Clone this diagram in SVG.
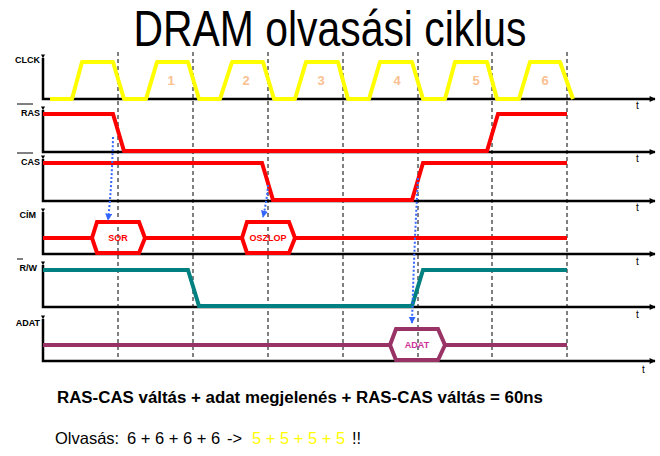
<svg xmlns="http://www.w3.org/2000/svg" width="660" height="456" viewBox="0 0 660 456">
<defs>
<marker id="ax" viewBox="0 0 10 10" refX="9" refY="5" markerWidth="4" markerHeight="4" orient="auto" markerUnits="userSpaceOnUse"><path d="M0,0 L10,5 L0,10 z" fill="#000"/></marker>
<marker id="axh" viewBox="0 0 10 10" refX="9" refY="5" markerWidth="8" markerHeight="6" orient="auto" markerUnits="userSpaceOnUse"><path d="M0,0 L10,5 L0,10 z" fill="#000"/></marker>
<marker id="bl" viewBox="0 0 10 10" refX="9" refY="5" markerWidth="7" markerHeight="7" orient="auto" markerUnits="userSpaceOnUse"><path d="M0,0 L10,5 L0,10 z" fill="#3366FF"/></marker>
<style>
.axis{fill:none;stroke:#000;stroke-width:2.5}
.dash{fill:none;stroke:#000;stroke-width:1;stroke-dasharray:4,3}
.lbl{font-family:"Liberation Sans",Arial,sans-serif;font-size:9px;font-weight:bold;fill:#000}
.t{font-family:"Liberation Sans",Arial,sans-serif;font-size:10px;fill:#000}
.num{font-family:"Liberation Sans",Arial,sans-serif;font-size:13px;font-weight:bold;fill:#FAC090;text-anchor:middle}
.clk{fill:none;stroke:#FFFF00;stroke-width:4;stroke-linejoin:round}
.red{fill:none;stroke:#FF0000;stroke-width:4}
.teal{fill:none;stroke:#008080;stroke-width:4}
.pur{fill:none;stroke:#993366;stroke-width:4}
.in{font-family:"Liberation Sans",Arial,sans-serif;font-size:9px;font-weight:bold;text-anchor:middle}
.blue{fill:none;stroke:#3366FF;stroke-width:2;stroke-dasharray:2,2}
.note{font-family:"Liberation Sans",Arial,sans-serif;font-size:16.5px;fill:#000}
</style>
</defs>
<rect width="660" height="456" fill="#fff"/>
<text x="330" y="46" text-anchor="middle" font-family="Liberation Sans,Arial,sans-serif" font-size="50" textLength="393" lengthAdjust="spacingAndGlyphs">DRAM olvasási ciklus</text>

<g id="grid">
<line class="dash" x1="118" y1="52" x2="118" y2="361"/>
<line class="dash" x1="193" y1="52" x2="193" y2="361"/>
<line class="dash" x1="268" y1="52" x2="268" y2="361"/>
<line class="dash" x1="343" y1="52" x2="343" y2="361"/>
<line class="dash" x1="418" y1="52" x2="418" y2="361"/>
<line class="dash" x1="492" y1="52" x2="492" y2="361"/>
<line class="dash" x1="567" y1="52" x2="567" y2="361"/>
</g>

<g id="clck">
<path class="axis" d="M43,58 L43,99 L655,99" marker-start="url(#ax)" marker-end="url(#axh)"/>
<text class="lbl" x="40" y="63" text-anchor="end">CLCK</text>
<text class="t" x="636" y="109">t</text>
<path class="clk" d="M50,99 L72,99 L82,62 L113,62 L124,99 L146,99 L157,62 L188,62 L199,99 L220,99 L232,62 L263,62 L274,99 L295,99 L306,62 L338,62 L348,99 L369,99 L380,62 L412,62 L423,99 L445,99 L455,62 L487,62 L497,99 L519,99 L530,62 L560,62 L573,99"/>
<text class="num" x="171" y="85">1</text>
<text class="num" x="246" y="85">2</text>
<text class="num" x="321" y="85">3</text>
<text class="num" x="397" y="85">4</text>
<text class="num" x="476" y="85">5</text>
<text class="num" x="545" y="85">6</text>
</g>

<g id="ras">
<path class="axis" d="M43,110 L43,152 L655,152" marker-start="url(#ax)" marker-end="url(#axh)"/>
<line x1="17" y1="104" x2="33" y2="104" stroke="#000" stroke-width="1"/>
<text class="lbl" x="40" y="116" text-anchor="end">RAS</text>
<text class="t" x="636" y="162">t</text>
<path class="red" d="M43,114 L113,114 L124,151 L487,151 L498,114 L567,114"/>
</g>

<g id="cas">
<path class="axis" d="M43,159 L43,201 L655,201" marker-start="url(#ax)" marker-end="url(#axh)"/>
<line x1="17" y1="153" x2="33" y2="153" stroke="#000" stroke-width="1"/>
<text class="lbl" x="40" y="165" text-anchor="end">CAS</text>
<text class="t" x="636" y="211">t</text>
<path class="red" d="M43,163 L262,163 L273,200 L412,200 L423,163 L567,163"/>
</g>

<g id="cim">
<path class="axis" d="M43,212 L43,254 L655,254" marker-start="url(#ax)" marker-end="url(#axh)"/>
<text class="lbl" x="36" y="218" text-anchor="end">CÍM</text>
<text class="t" x="636" y="265">t</text>
<path class="red" d="M43,238 L92,238 M145,238 L242,238 M295,238 L567,238"/>
<path class="red" d="M92,238 L97,222 L139,222 L145,238 L139,253 L97,253 Z"/>
<text class="in" x="118" y="241" fill="#FF0000">SOR</text>
<path class="red" d="M242,238 L247,222 L289,222 L295,238 L289,253 L247,253 Z"/>
<text class="in" x="268" y="241" fill="#FF0000">OSZLOP</text>
</g>

<g id="rw">
<path class="axis" d="M43,265 L43,307 L655,307" marker-start="url(#ax)" marker-end="url(#axh)"/>
<line x1="17" y1="259" x2="23" y2="259" stroke="#000" stroke-width="1"/>
<text class="lbl" x="37" y="271" text-anchor="end">R/W</text>
<text class="t" x="636" y="318">t</text>
<path class="teal" d="M43,270 L188,270 L199,306 L412,306 L423,270 L567,270"/>
</g>

<g id="adat">
<path class="axis" d="M43,319 L43,361 L655,361" marker-start="url(#ax)" marker-end="url(#axh)"/>
<text class="lbl" x="40" y="326" text-anchor="end">ADAT</text>
<text class="t" x="642" y="373">t</text>
<path class="pur" d="M43,345 L390,345 M445,345 L567,345"/>
<path class="pur" d="M390,345 L396,329 L438,329 L445,345 L438,360 L396,360 Z"/>
<text class="in" x="417" y="348" fill="#CC3399">ADAT</text>
</g>

<g id="connectors">
<path class="blue" d="M113,137 Q112,185 108,220" marker-end="url(#bl)"/>
<path class="blue" d="M268,185 Q267,200 263,217" marker-end="url(#bl)"/>
<path class="blue" d="M418,178 Q414,250 412,323" marker-end="url(#bl)"/>
</g>

<g id="notes">
<text x="57" y="403" font-family="Liberation Sans,Arial,sans-serif" font-size="16" font-weight="bold" textLength="486" lengthAdjust="spacingAndGlyphs">RAS-CAS váltás + adat megjelenés + RAS-CAS váltás = 60ns</text>
<text class="note" y="444"><tspan x="55">Olvasás:</tspan><tspan x="127">6 + 6 + 6 + 6</tspan><tspan x="227">-&gt;</tspan><tspan x="252" fill="#FFFF00">5 + 5 + 5 + 5</tspan><tspan x="352">!!</tspan></text>
</g>
</svg>
